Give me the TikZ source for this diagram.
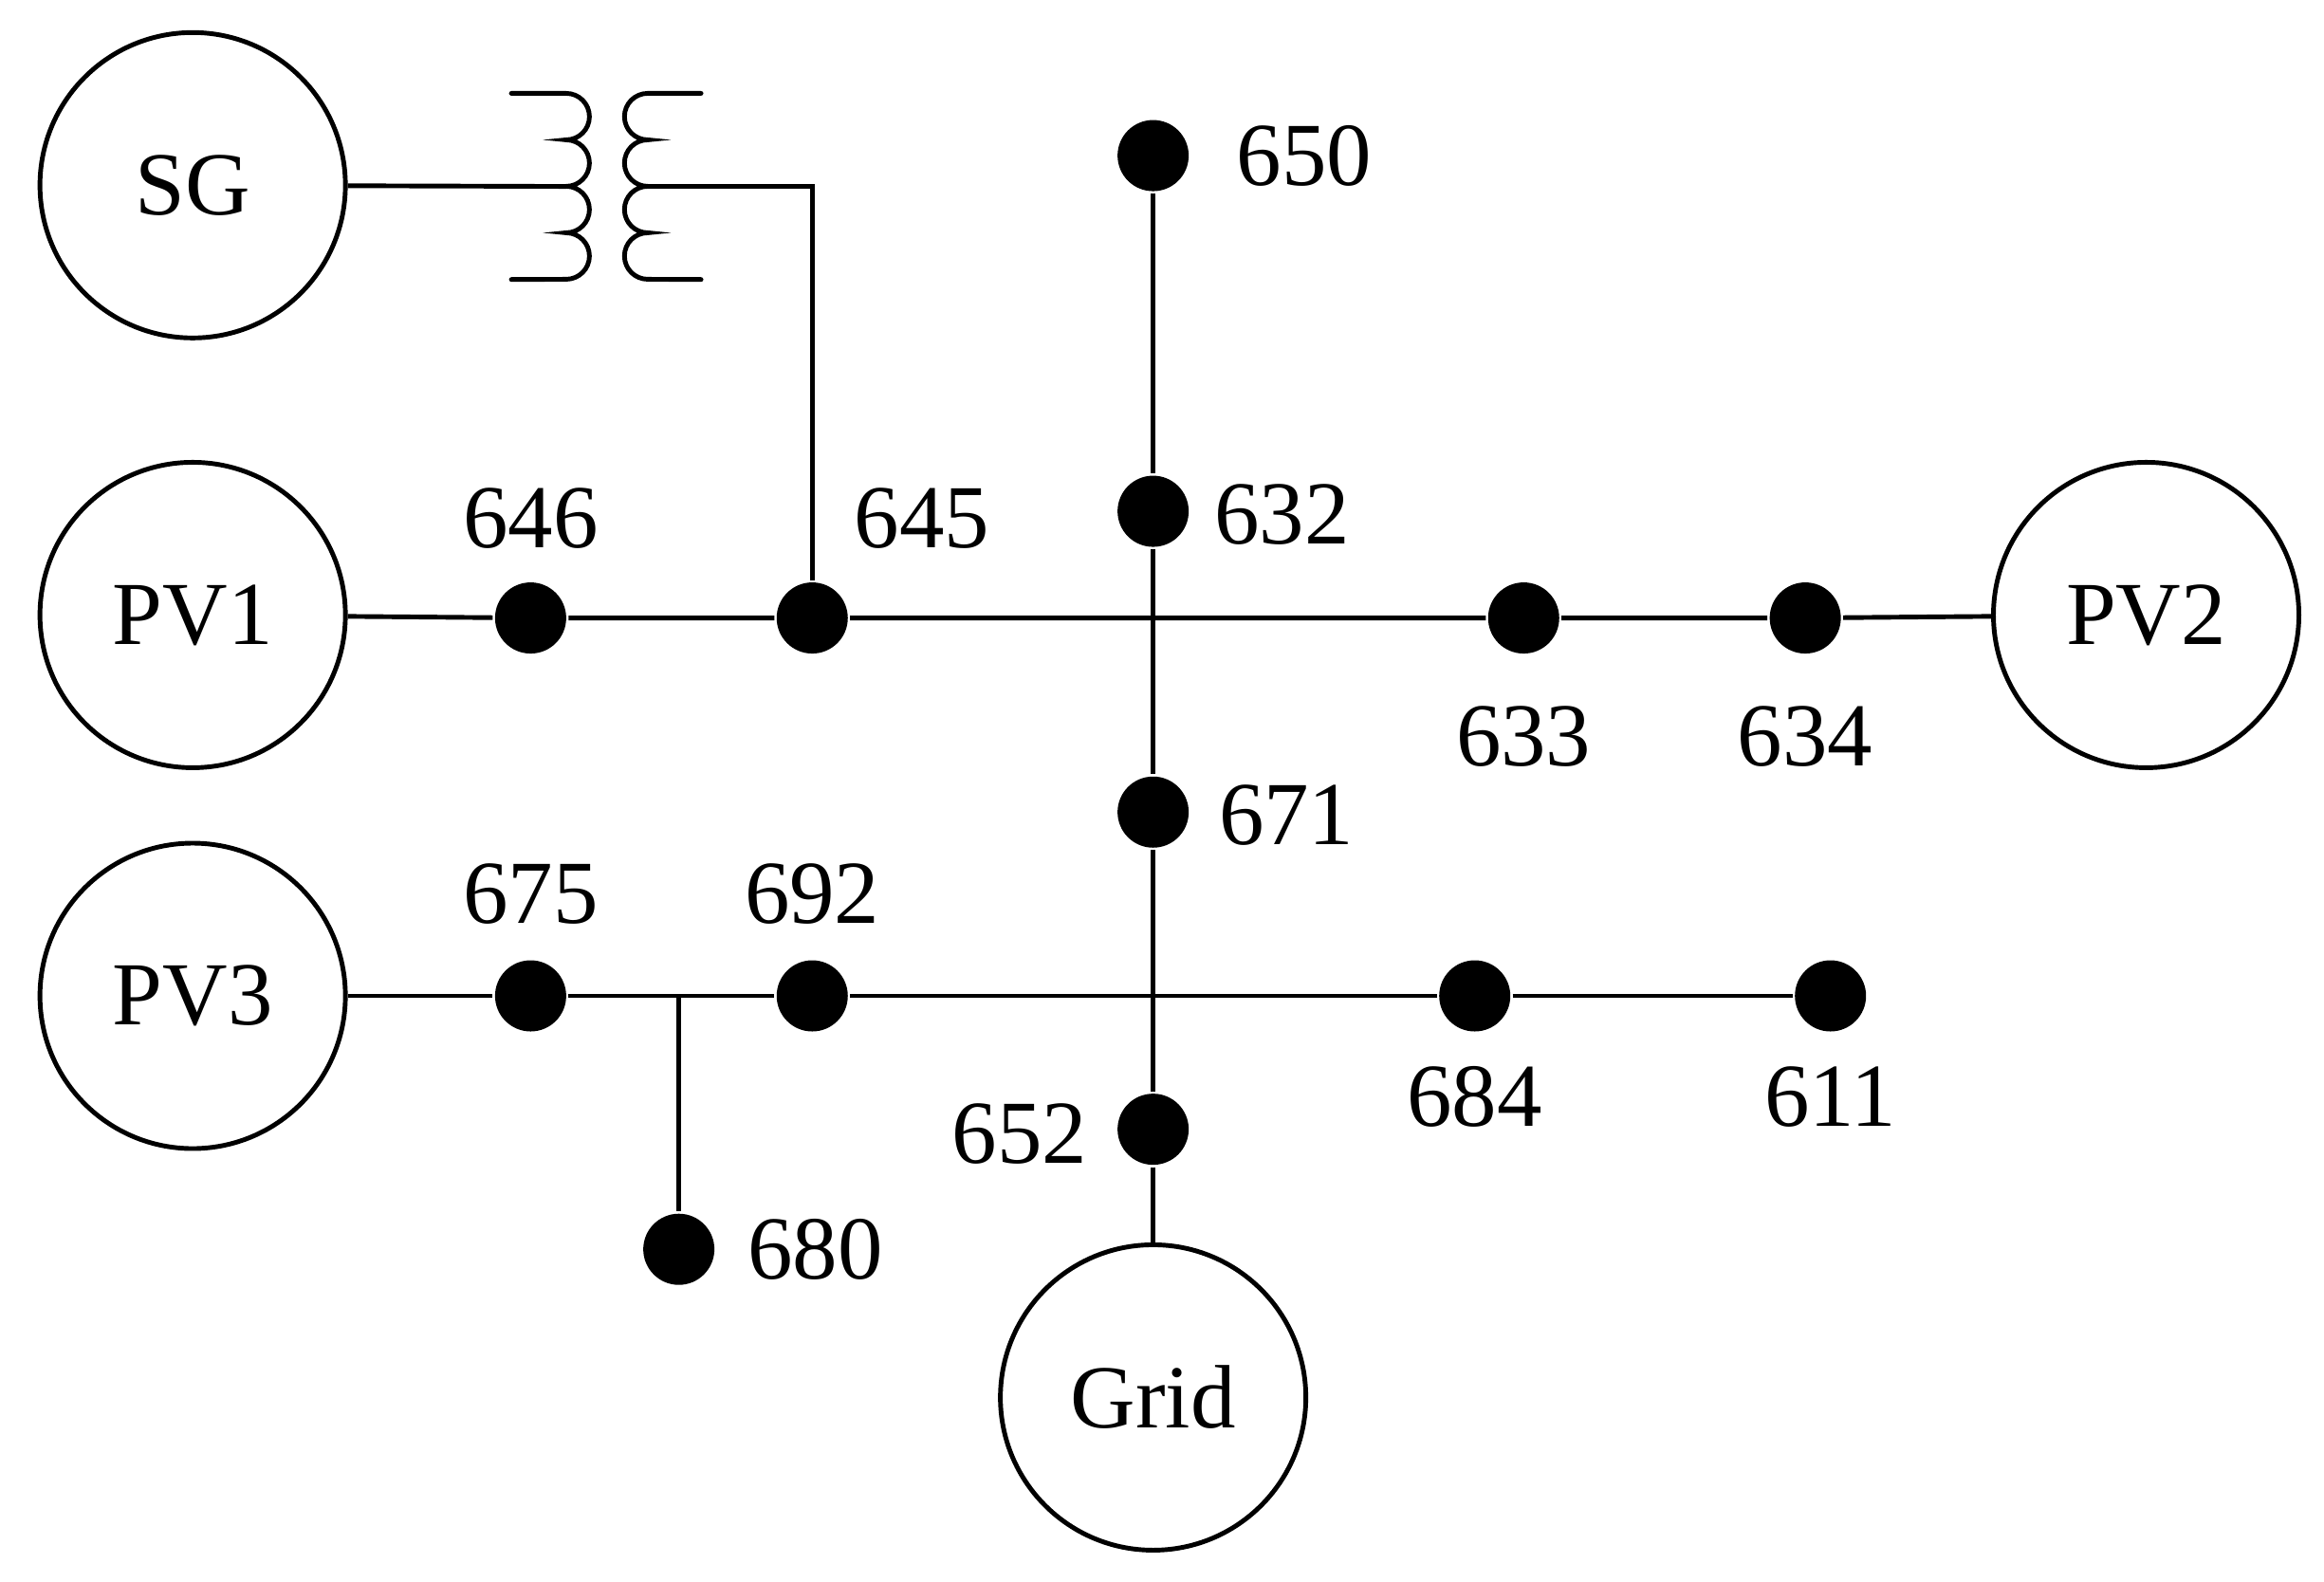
\documentclass[tikz,border=0pt]{standalone}
\usepackage{fontspec}
\setmainfont{Liberation Serif}
\tikzset{
  src/.style={circle, draw, line width=1.4pt, minimum size=3.22cm, inner sep=0pt, font=\fontsize{27}{30}\selectfont},
  bus/.style={circle, fill, minimum size=0.75cm, inner sep=0pt},
  lbl/.style={font=\fontsize{27}{30}\selectfont}
}
\begin{document}
\begin{tikzpicture}[x=0.015625cm, y=-0.015625cm, line width=1.4pt]
\useasboundingbox (0,0) rectangle (1568,1067.5);
% sources
\node[src] (SG) at (130,125) {SG};
\node[src] (PV1) at (130,415) {PV1};
\node[src] (PV3) at (130,672) {PV3};
\node[src] (PV2) at (1448,415) {PV2};
\node[src] (Grid) at (778,943) {Grid};
% buses
\node[bus] (b650) at (778,105) {};
\node[bus] (b632) at (778,345) {};
\node[bus] (b671) at (778,548) {};
\node[bus] (b652) at (778,762) {};
\node[bus] (b646) at (358,417) {};
\node[bus] (b645) at (548,417) {};
\node[bus] (b633) at (1028,417) {};
\node[bus] (b634) at (1218,417) {};
\node[bus] (b675) at (358,672) {};
\node[bus] (b692) at (548,672) {};
\node[bus] (b684) at (995,672) {};
\node[bus] (b611) at (1235,672) {};
\node[bus] (b680) at (458,843) {};
% labels
\node[lbl] at (880,105) {650};
\node[lbl] at (865,347) {632};
\node[lbl] at (358,350) {646};
\node[lbl] at (622,350) {645};
\node[lbl] at (1028,497) {633};
\node[lbl] at (1218,497) {634};
\node[lbl] at (868,550) {671};
\node[lbl] at (358,603) {675};
\node[lbl] at (548,603) {692};
\node[lbl] at (995,740) {684};
\node[lbl] at (1235,740) {611};
\node[lbl] at (688,765) {652};
\node[lbl] at (550,843) {680};
% lines
\draw (PV1) -- (b646) -- (b645) -- (b633) -- (b634) -- (PV2);
\draw (PV3) -- (b675) -- (b692) -- (b684) -- (b611);
\draw (b650) -- (b632) -- (b671) -- (b652) -- (Grid);
\coordinate (t680) at (458,672);
\draw (t680) -- (b680);
% transformer
\coordinate (tp) at (382,125.8);
\coordinate (ts) at (437,125.8);
\coordinate (tk) at (548,125.8);
\draw[line cap=round] (345,63) -- (382,63) arc (90:-90:0.245cm) arc (90:-90:0.245cm) arc (90:-90:0.245cm) arc (90:-90:0.245cm) -- (345,188.6);
\draw[line cap=round] (473,63) -- (437,63) arc (90:270:0.245cm) arc (90:270:0.245cm) arc (90:270:0.245cm) arc (90:270:0.245cm) -- (473,188.6);
\draw (SG) -- (tp);
\draw (ts) -- (tk) -- (b645);
\end{tikzpicture}
\end{document}
